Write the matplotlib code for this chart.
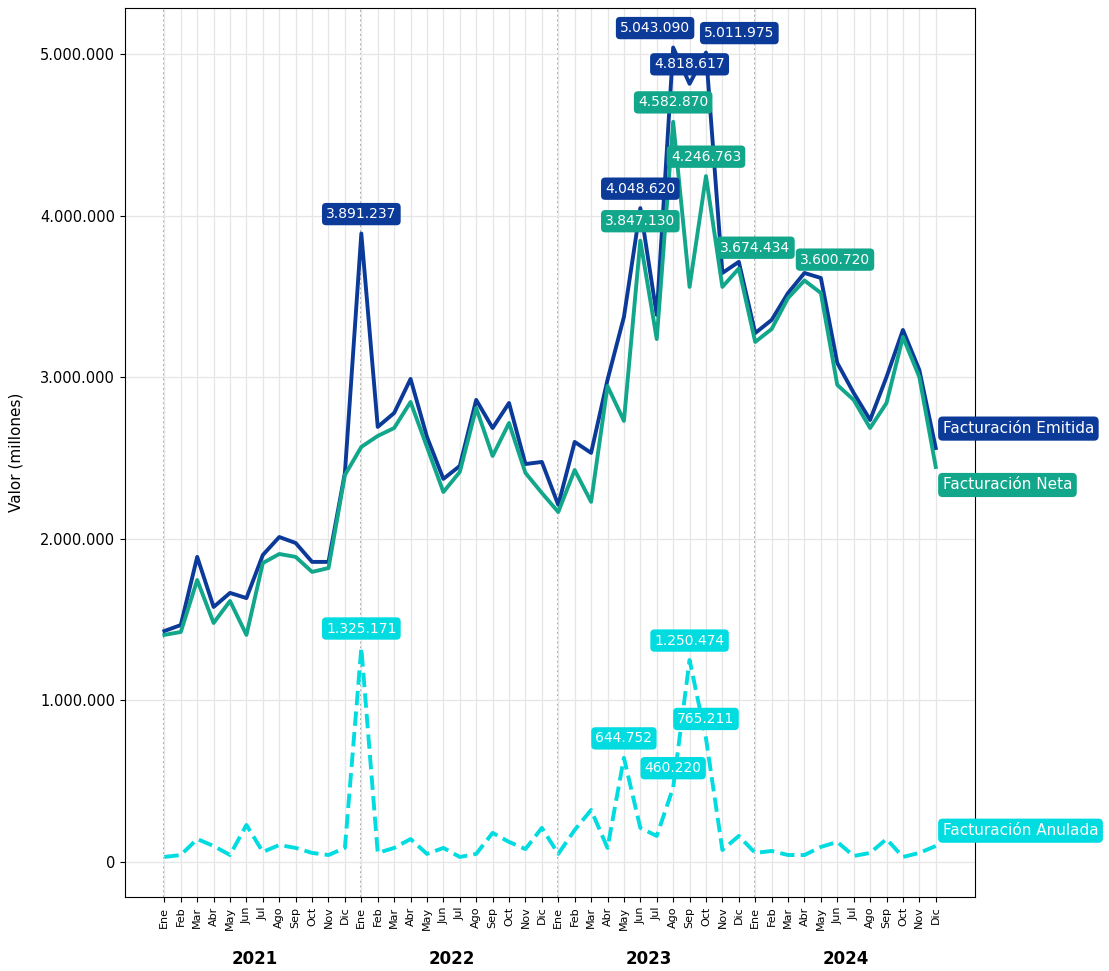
import numpy as np
import matplotlib
matplotlib.use("Agg")
import matplotlib.pyplot as plt
from matplotlib.ticker import FuncFormatter

# Datos mensuales 2021-2024
years = [2021, 2022, 2023, 2024]
months = ["Ene", "Feb", "Mar", "Abr", "May", "Jun",
          "Jul", "Ago", "Sep", "Oct", "Nov", "Dic"]

emitida = [
    1430000, 1467000, 1889000, 1579000, 1666000, 1634000,
    1901000, 2012000, 1975000, 1858000, 1858000, 2409000,
    3891237, 2694000, 2780000, 2991000, 2632000, 2372000,
    2452000, 2861000, 2687000, 2842000, 2464000, 2477000,
    2211000, 2601000, 2533000, 2985000, 3375000, 4048620,
    3387000, 5043090, 4818617, 5011975, 3647000, 3716000,
    3275000, 3356000, 3523000, 3647000, 3616000, 3090000,
    2904000, 2737000, 3003000, 3294000, 3046000, 2563000,
]
neta = [
    1406000, 1424000, 1746000, 1480000, 1616000, 1406000,
    1851000, 1907000, 1889000, 1796000, 1820000, 2396000,
    2570000, 2638000, 2687000, 2848000, 2570000, 2291000,
    2415000, 2811000, 2514000, 2718000, 2409000, 2285000,
    2167000, 2427000, 2230000, 2947000, 2731000, 3847130,
    3238000, 4582870, 3561000, 4246763, 3561000, 3674434,
    3220000, 3300000, 3492000, 3600720, 3523000, 2954000,
    2861000, 2687000, 2842000, 3251000, 3003000, 2446000,
]
anulada = [
    31000, 43000, 142000, 99000, 43000, 229000,
    62000, 105000, 87000, 56000, 43000, 87000,
    1325171, 56000, 87000, 142000, 50000, 87000,
    31000, 50000, 180000, 124000, 80000, 211000,
    50000, 198000, 322000, 87000, 644752, 211000,
    161000, 460220, 1250474, 765211, 74000, 161000,
    56000, 68000, 43000, 43000, 93000, 124000,
    37000, 56000, 142000, 31000, 56000, 99000,
]

# indices de los meses etiquetados y su desplazamiento (puntos)
labels_emitida = {12: (0, 14), 29: (0, 14), 31: (-13, 14), 32: (0, 14), 33: (24, 14)}
labels_neta = {29: (0, 14), 31: (0, 14), 33: (0, 14), 35: (12, 15), 39: (22, 15)}
labels_anulada = {12: (0, 14), 28: (0, 14), 31: (0, 14), 32: (0, 14), 33: (0, 14)}

c_emitida = "#0B3A99"
c_neta = "#12A68A"
c_anulada = "#00DCE0"


def fmt_miles(v, pos=None):
    return f"{v:,.0f}".replace(",", ".")


x = np.arange(len(emitida))

fig = plt.figure(figsize=(11.09, 9.71), dpi=100)
ax = fig.add_axes([0.1127, 0.0762, 0.7666, 0.9156])

ax.plot(x, emitida, color=c_emitida, lw=2.8, zorder=3)
ax.plot(x, neta, color=c_neta, lw=2.8, zorder=3)
ax.plot(x, anulada, color=c_anulada, lw=2.8, ls="--", zorder=3)

# separadores de año
for i in range(len(years)):
    ax.axvline(i * 12, color="#999999", ls=":", lw=1.3, zorder=1)


def etiquetar(serie, labels, color):
    for i, (dx, dy) in labels.items():
        ax.annotate(fmt_miles(serie[i]), (x[i], serie[i]), xytext=(dx, dy),
                    textcoords="offset points", ha="center", va="center",
                    fontsize=10, color="white", zorder=5,
                    bbox=dict(boxstyle="round,pad=0.3", fc=color, ec="none"))


etiquetar(emitida, labels_emitida, c_emitida)
etiquetar(neta, labels_neta, c_neta)
etiquetar(anulada, labels_anulada, c_anulada)

# nombres al final de cada serie
ax.annotate("Facturación Emitida", (x[-1], emitida[-1]), xytext=(5, 14),
            textcoords="offset points", va="center", ha="left", fontsize=11,
            color="white", annotation_clip=False, zorder=6,
            bbox=dict(boxstyle="round,pad=0.3", fc=c_emitida, ec="none"))
ax.annotate("Facturación Neta", (x[-1], neta[-1]), xytext=(5, -13),
            textcoords="offset points", va="center", ha="left", fontsize=11,
            color="white", annotation_clip=False, zorder=6,
            bbox=dict(boxstyle="round,pad=0.3", fc=c_neta, ec="none"))
ax.annotate("Facturación Anulada", (x[-1], anulada[-1]), xytext=(5, 11),
            textcoords="offset points", va="center", ha="left", fontsize=11,
            color="white", annotation_clip=False, zorder=6,
            bbox=dict(boxstyle="round,pad=0.3", fc=c_anulada, ec="none"))

ax.set_xlim(-2.4, 49.4)
ax.set_ylim(-217000, 5288000)
ax.set_xticks(x)
ax.set_xticklabels(months * len(years), rotation=90, fontsize=8)
ax.set_yticks([0, 1000000, 2000000, 3000000, 4000000, 5000000])
ax.yaxis.set_major_formatter(FuncFormatter(fmt_miles))
ax.tick_params(axis="y", labelsize=10.5)
ax.grid(True, color="#e6e6e6", lw=0.9, zorder=0)
ax.set_ylabel("Valor (millones)", fontsize=11, labelpad=12)

for i, yr in enumerate(years):
    ax.text(i * 12 + 5.5, -0.07, str(yr), transform=ax.get_xaxis_transform(),
            ha="center", va="center", fontsize=12, fontweight="bold")

for s in ax.spines.values():
    s.set_color("black")

fig.savefig("out.png", dpi=100)
